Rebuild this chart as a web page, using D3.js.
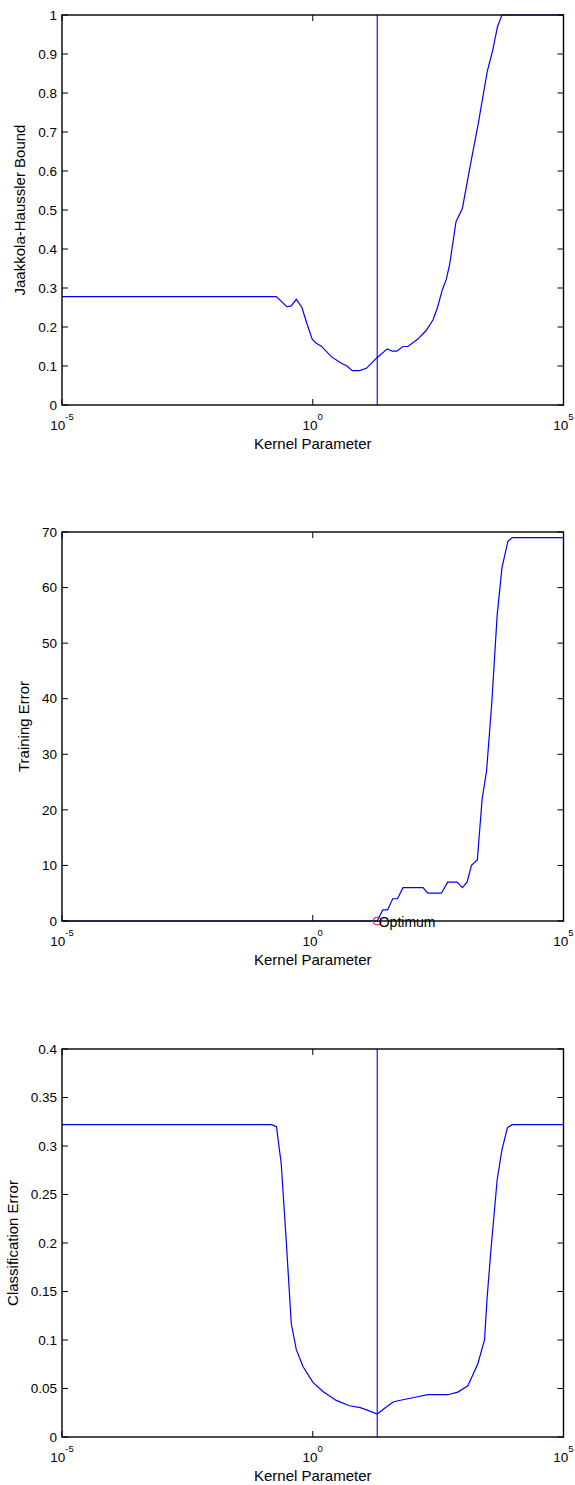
<!DOCTYPE html>
<html>
<head>
<meta charset="utf-8">
<script src="https://cdn.jsdelivr.net/npm/d3@7"></script>
<style>
  html, body { margin: 0; padding: 0; background: #fff; }
  svg { display: block; }
  text { font-family: "Liberation Sans", Arial, Helvetica, sans-serif; fill: #000; }
</style>
</head>
<body>
<script>
// ---------------- Data ----------------
const xTickValues = [1e-5, 1, 1e5];
const xTickExponents = ["-5", "0", "5"];
const xLabel = "Kernel Parameter";
const optimumK = 19.3;

// Panel 1: Jaakkola-Haussler bound
const jhK = [1e-5, 0.1875, 0.305, 0.373, 0.470, 0.608, 0.764, 0.98, 1.18, 1.48, 2.34, 3.71, 4.80, 6.14, 8.59, 11.7,
  19.3, 30.6, 38.5, 47.5, 62.7, 78.9, 124.7, 183, 249, 304, 383, 459, 535, 579, 719, 962, 1413, 1977, 3013, 3882, 4831, 5916, 1e5];
const jhBound = [0.278, 0.278, 0.252, 0.254, 0.271, 0.250, 0.209, 0.168, 0.158, 0.151, 0.124, 0.107, 0.100, 0.088, 0.088, 0.094,
  0.122, 0.144, 0.138, 0.138, 0.150, 0.150, 0.169, 0.191, 0.218, 0.248, 0.295, 0.322, 0.359, 0.389, 0.470, 0.504, 0.620, 0.718, 0.855, 0.910, 0.970, 1.0, 1.0];
const jhYTicks = [0, 0.1, 0.2, 0.3, 0.4, 0.5, 0.6, 0.7, 0.8, 0.9, 1];

// Panel 2: Training error
const trK = [1e-5, 19.3, 24.9, 31.0, 39.3, 48.9, 63, 158, 197, 368, 490, 757, 962, 1194, 1462, 1914, 2388, 2924, 3698, 4753, 5916, 7762, 9484, 1e5];
const trErr = [0, 0, 2, 2, 4, 4, 6, 6, 5, 5, 7, 7, 6, 7, 10, 11, 22, 27, 39, 55, 63.5, 68.3, 69, 69];
const trYTicks = [0, 10, 20, 30, 40, 50, 60, 70];
const optimumLabel = "Optimum";

// Panel 3: Classification error
const clK = [1e-5, 0.152, 0.189, 0.235, 0.298, 0.373, 0.470, 0.638, 1.007, 1.596, 2.94, 5.43, 8.87, 12.6, 19.3, 29.2, 40.9, 62.7,
  116, 197, 494, 782, 1239, 1959, 2661, 3013, 3573, 4753, 5916, 7621, 9484, 1e5];
const clErr = [0.322, 0.322, 0.320, 0.282, 0.200, 0.117, 0.090, 0.0727, 0.0563, 0.047, 0.0377, 0.0322, 0.0302, 0.0274, 0.0237, 0.0309, 0.0364, 0.0384,
  0.0412, 0.0436, 0.0436, 0.0463, 0.0528, 0.0755, 0.100, 0.145, 0.193, 0.265, 0.296, 0.319, 0.322, 0.322];
const clYTicks = [0, 0.05, 0.1, 0.15, 0.2, 0.25, 0.3, 0.35, 0.4];

// ---------------- Drawing ----------------
const W = 575, H = 1485;
const svg = d3.select("body").append("svg").attr("width", W).attr("height", H);
svg.append("rect").attr("width", W).attr("height", H).attr("fill", "#fff");

const left = 62, right = 563.5;
const x = d3.scaleLog().domain([1e-5, 1e5]).range([left, right]);
const fmt = d3.format("~g");

function panel(cfg) {
  const y = d3.scaleLinear().domain(cfg.yDomain).range([cfg.bottom, cfg.top]);
  const g = svg.append("g");
  const tl = 6;

  // y ticks (left & right, inward)
  cfg.yTicks.forEach(t => {
    const yy = y(t);
    g.append("line").attr("x1", left).attr("x2", left + tl).attr("y1", yy).attr("y2", yy).attr("stroke", "#000").attr("stroke-width", 1);
    g.append("line").attr("x1", right).attr("x2", right - tl).attr("y1", yy).attr("y2", yy).attr("stroke", "#000").attr("stroke-width", 1);
    g.append("text").attr("x", left - 5).attr("y", yy).attr("dy", "0.35em")
      .attr("text-anchor", "end").attr("font-size", "13.5px").text(fmt(t));
  });

  // x ticks (bottom & top, inward) + labels
  xTickValues.forEach((t, i) => {
    const xx = x(t);
    g.append("line").attr("x1", xx).attr("x2", xx).attr("y1", cfg.bottom).attr("y2", cfg.bottom - tl).attr("stroke", "#000").attr("stroke-width", 1);
    g.append("line").attr("x1", xx).attr("x2", xx).attr("y1", cfg.top).attr("y2", cfg.top + tl).attr("stroke", "#000").attr("stroke-width", 1);
    const tx = g.append("text").attr("x", xx).attr("y", cfg.bottom + 25).attr("text-anchor", "middle").attr("font-size", "13.5px");
    tx.append("tspan").text("10");
    tx.append("tspan").attr("dy", -10).attr("font-size", "9.5px").text(xTickExponents[i]);
  });

  // Optional vertical optimum line
  if (cfg.vline) {
    g.append("line").attr("x1", x(optimumK)).attr("x2", x(optimumK))
      .attr("y1", cfg.top).attr("y2", cfg.bottom).attr("stroke", "#0000ff").attr("stroke-width", 1.1);
  }

  // Curve
  const line = d3.line().x((d, i) => x(cfg.xs[i])).y(d => y(d));
  g.append("path").datum(cfg.ys).attr("d", line).attr("fill", "none").attr("stroke", "#0000ff").attr("stroke-width", 1.2);

  // Box
  g.append("rect").attr("x", left).attr("y", cfg.top).attr("width", right - left).attr("height", cfg.bottom - cfg.top)
    .attr("fill", "none").attr("stroke", "#000").attr("stroke-width", 1.4);

  // Optimum marker
  if (cfg.marker) {
    g.append("circle").attr("cx", x(optimumK)).attr("cy", y(0)).attr("r", 4)
      .attr("fill", "none").attr("stroke", "#ff0000").attr("stroke-width", 1);
    g.append("text").attr("x", x(optimumK) + 1.5).attr("y", y(0) + 5.5).attr("font-size", "14px").text(optimumLabel);
  }

  // Axis labels
  g.append("text").attr("x", (left + right) / 2).attr("y", cfg.bottom + 43.5).attr("text-anchor", "middle")
    .attr("font-size", "15px").text(xLabel);
  g.append("text").attr("transform", `translate(${cfg.ylabelX},${(cfg.top + cfg.bottom) / 2}) rotate(-90)`)
    .attr("text-anchor", "middle").attr("font-size", "15px").text(cfg.ylabel);
}

panel({ top: 15, bottom: 405, yDomain: [0, 1], yTicks: jhYTicks, xs: jhK, ys: jhBound,
  vline: true, ylabel: "Jaakkola-Haussler Bound", ylabelX: 24.5 });
panel({ top: 532, bottom: 921, yDomain: [0, 70], yTicks: trYTicks, xs: trK, ys: trErr,
  marker: true, ylabel: "Training Error", ylabelX: 28.5 });
panel({ top: 1049, bottom: 1437, yDomain: [0, 0.4], yTicks: clYTicks, xs: clK, ys: clErr,
  vline: true, ylabel: "Classification Error", ylabelX: 17.5 });
</script>
</body>
</html>
